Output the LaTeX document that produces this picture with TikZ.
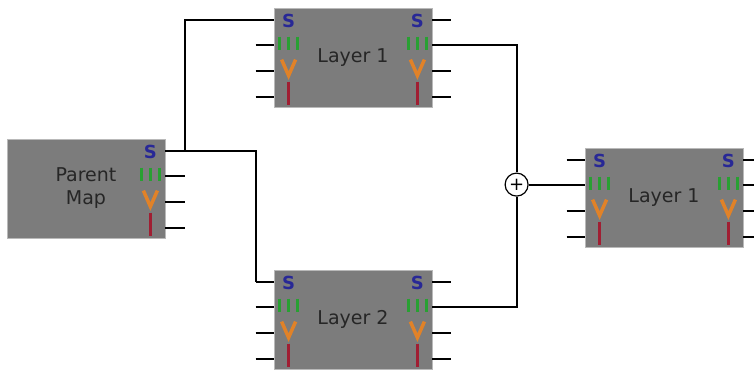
\documentclass[tikz,border=0pt]{standalone}
\usepackage{fontspec}
\setsansfont{DejaVu Sans}
\usetikzlibrary{positioning,calc}
\definecolor{mapgray}{RGB}{124,124,124}
\definecolor{sblue}{RGB}{40,40,150}
\definecolor{mgreen}{RGB}{40,160,50}
\definecolor{yorange}{RGB}{225,130,40}
\definecolor{bred}{RGB}{160,30,50}
\tikzset{
  mapbox/.style={draw=gray!55,fill=mapgray,line width=0.8pt,
                 minimum width=158pt,minimum height=99pt,inner sep=0pt,
                 font=\sffamily\fontsize{19}{23}\selectfont,text=black!85,align=center},
  % connectors
  wire/.style={line width=2pt,black},
  stub/.style={wire},
  sumnode/.style={circle,draw,fill=white,line width=1.2pt,minimum size=23pt,
                  inner sep=0pt,font=\sffamily\fontsize{18}{18}\selectfont},
}
% icon column, #1 = point on the top edge above the column
\newcommand{\iconcol}[1]{%
  \node[font=\sffamily\bfseries\fontsize{18}{18}\selectfont,text=sblue] at ($#1+(0,-13)$) {S};
  \foreach \dx in {-9,0,9}
    \draw[mgreen,line width=3pt] ($#1+(\dx,-29)$) -- ++(0,-13);
  \draw[yorange,line width=3.5pt] ($#1+(-7,-52)$) -- ($#1+(0,-68)$) -- ($#1+(7,-52)$);
  \draw[bred,line width=3.5pt] ($#1+(0,-74)$) -- ++(0,-23);
}

\begin{document}
\begin{tikzpicture}[x=1pt,y=1pt]
\useasboundingbox (0,0) rectangle (754,369);
\node[mapbox] (par) at (86,180.5) {Parent\\Map};
\node[mapbox] (lay1) at (353,311.5) {Layer 1};
\node[mapbox] (lay2) at (353,49.5) {Layer 2};
\node[mapbox] (lay3) at (664,171.5) {Layer 1};

% ports
\foreach \r/\dy in {1/-12,2/-37,3/-63,4/-89} {
  \coordinate (par-out\r) at ($(par.north east)+(20,\dy)$);
  \draw[stub] (par.north east |- par-out\r) -- (par-out\r);
  \foreach \b in {lay1,lay2,lay3} {
    \coordinate (\b-in\r) at ($(\b.north west)+(-18,\dy)$);
    \coordinate (\b-out\r) at ($(\b.north east)+(19,\dy)$);
    \draw[stub] (\b-in\r) -- (\b.north west |- \b-in\r);
    \draw[stub] (\b.north east |- \b-out\r) -- (\b-out\r);
  }
}
\node[sumnode] (sum) at ($(lay3-in2)+(-50,0)$) {+};

% icons
\iconcol{(par.north east)+(-15,0)}
\foreach \b in {lay1,lay2,lay3} {
  \iconcol{(\b.north west)+(15,0)}
  \iconcol{(\b.north east)+(-15,0)}
}

% wires
\draw[wire] (par-out1) |- (lay1-in1);
\draw[wire] (par-out1) -| (lay2-in1);
\draw[wire] (lay1-out2) -| (sum.north);
\draw[wire] (lay2-out2) -| (sum.south);
\draw[wire] (sum.east) -- (lay3-in2);
\end{tikzpicture}
\end{document}
